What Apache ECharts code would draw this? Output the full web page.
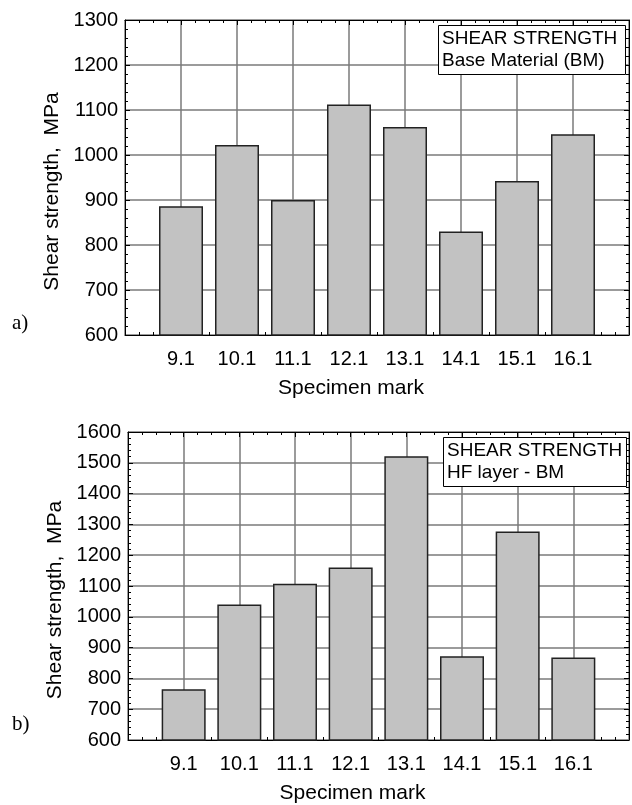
<!DOCTYPE html>
<html>
<head>
<meta charset="utf-8">
<script src="https://cdn.jsdelivr.net/npm/echarts@6/dist/echarts.min.js"></script>
<style>
html,body{margin:0;padding:0;background:#fff;}
#chart{width:632px;height:805px;}
</style>
</head>
<body>
<div id="chart"></div>
<script>
// ---- data ----
const categories = ['9.1', '10.1', '11.1', '12.1', '13.1', '14.1', '15.1', '16.1'];
const valuesA = [886, 1022, 900, 1112, 1062, 830, 942, 1046];
const valuesB = [765, 1040, 1107, 1160, 1521, 872, 1277, 868];
const yTicksA = [600, 700, 800, 900, 1000, 1100, 1200, 1300];
const yTicksB = [600, 700, 800, 900, 1000, 1100, 1200, 1300, 1400, 1500, 1600];
const xTitle = 'Specimen mark';
const yTitle = 'Shear strength,  MPa';
const boxA = ['SHEAR STRENGTH', 'Base Material (BM)'];
const boxB = ['SHEAR STRENGTH', 'HF layer - BM'];

const FONT = 'Liberation Sans';
const chart = echarts.init(document.getElementById('chart'), null, {renderer: 'canvas'});

function xAxis(gridIndex, position, main) {
  return {
    type: 'value', gridIndex: gridIndex, position: position,
    min: 0, max: categories.length + 1, interval: 1,
    axisLine: {show: true, onZero: false, lineStyle: {color: '#000', width: 1}},
    axisTick: {show: true, inside: true, length: 5, lineStyle: {color: '#000', width: 1}},
    minorTick: {show: true, splitNumber: 4, length: 3, lineStyle: {color: '#000', width: 1}},
    axisLabel: {
      show: main, margin: 14, fontSize: 20, color: '#000', fontFamily: FONT,
      formatter: function (v) {
        const i = Math.round(v) - 1;
        return (Math.abs(v - Math.round(v)) < 1e-6 && i >= 0 && i < categories.length) ? categories[i] : '';
      }
    },
    splitLine: {show: main, lineStyle: {color: '#7a7a7a', width: 1.5}},
    name: main ? xTitle : '', nameLocation: 'middle', nameGap: 43,
    nameTextStyle: {fontSize: 21, color: '#000', fontFamily: FONT, padding: [0, 52, 0, 0]}
  };
}
function yAxis(gridIndex, position, main, ticks) {
  return {
    type: 'value', gridIndex: gridIndex, position: position,
    min: ticks[0], max: ticks[ticks.length - 1], interval: ticks[1] - ticks[0],
    axisLine: {show: true, onZero: false, lineStyle: {color: '#000', width: 1}},
    axisTick: {show: true, inside: true, length: 5, lineStyle: {color: '#000', width: 1}},
    minorTick: {show: true, splitNumber: 5, length: 3, lineStyle: {color: '#000', width: 1}},
    axisLabel: {show: main, margin: 7, fontSize: 20, color: '#000', fontFamily: FONT,
      formatter: function (v) { return String(v); }},
    splitLine: {show: main, lineStyle: {color: '#7a7a7a', width: 1.5}},
    name: main ? yTitle : '', nameLocation: 'middle', nameGap: 57, nameRotate: 90,
    nameTextStyle: {fontSize: 21, color: '#000', fontFamily: FONT, padding: [0, 28, 0, 0]}
  };
}
function barSeries(idx, values) {
  return {
    type: 'bar', xAxisIndex: idx * 2, yAxisIndex: idx * 2,
    data: values.map((v, i) => [i + 1, v]),
    barWidth: 44,
    itemStyle: {color: '#c2c2c2', borderColor: '#222', borderWidth: 1.5},
    silent: true, animation: false
  };
}
function box(lines, left, top, padRight) {
  return {
    text: lines.join('\n'), left: left, top: top,
    borderColor: '#000', borderWidth: 1, backgroundColor: '#fff',
    padding: [3, padRight, 3, 4],
    textStyle: {fontSize: 19, fontWeight: 'normal', fontFamily: FONT, color: '#000', lineHeight: 22}
  };
}

chart.setOption({
  animation: false,
  backgroundColor: '#fff',
  grid: [
    {left: 125, right: 2, top: 20, height: 315},
    {left: 128, right: 2, top: 432, height: 310}
  ],
  xAxis: [xAxis(0, 'bottom', true), xAxis(0, 'top', false), xAxis(1, 'bottom', true), xAxis(1, 'top', false)],
  yAxis: [yAxis(0, 'left', true, yTicksA), yAxis(0, 'right', false, yTicksA), yAxis(1, 'left', true, yTicksB), yAxis(1, 'right', false, yTicksB)],
  series: [barSeries(0, valuesA), barSeries(1, valuesB)],
  title: [
    box(boxA, 438, 25, 9),
    box(boxB, 443, 437, 5),
    {text: 'a)', left: 7, top: 308, textStyle: {fontFamily: 'Liberation Serif', fontSize: 21, fontWeight: 'normal', color: '#000'}},
    {text: 'b)', left: 7, top: 709, textStyle: {fontFamily: 'Liberation Serif', fontSize: 21, fontWeight: 'normal', color: '#000'}}
  ]
});
</script>
</body>
</html>
